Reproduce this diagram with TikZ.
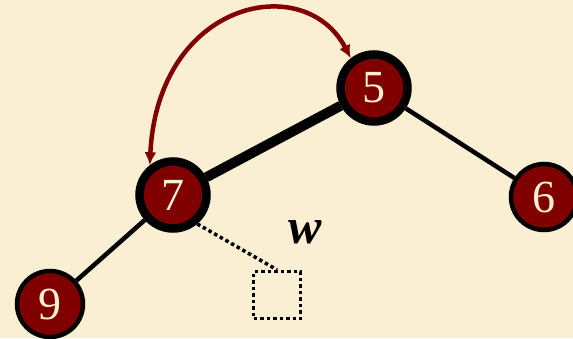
\documentclass[tikz,border=0pt]{standalone}
\usepackage{fontspec}
\setmainfont{Liberation Serif}
\usetikzlibrary{arrows.meta}
\definecolor{cream}{RGB}{250,239,210}
\definecolor{maroon}{RGB}{128,0,0}

\begin{document}
\begin{tikzpicture}[x=1pt,y=1pt,
	vertex/.style={shape=circle,draw=black,fill=maroon,text=cream,inner sep=0pt,font=\fontsize{46}{46}\selectfont},
	heavy/.style={vertex,line width=8.5pt,minimum size=67pt},
	light/.style={vertex,line width=4.5pt,minimum size=66pt},
	leaf/.style={draw=black,line width=3.5pt,dash pattern=on 3.5pt off 3pt,minimum size=47pt,inner sep=0pt}]
	\fill[cream] (0,0) rectangle (573,338);
	\useasboundingbox (0,0) rectangle (573,338);

	\node[heavy] (v5) at (374, 250)     {5};
	\node[heavy] (v7) at (173, 143)     {7};
	\node[light] (v6) at (544, 141)     {6};
	\node[light] (v9) at (50, 34)       {9};
	\node[leaf]  (w)  at (277, 43)      {};
	\node[font=\fontsize{50}{50}\selectfont\bfseries\itshape] (wlabel) at (305, 106) {w};

	\path[draw,line width=10pt] (v7) -- (v5);
	\path[draw,line width=4.5pt] (v5) -- (v6);
	\path[draw,line width=4.5pt] (v7) -- (v9);
	\path[draw,line width=3.5pt,dash pattern=on 3.5pt off 3pt] (v7.-50) -- (w.north);

	\draw[maroon,line width=4.5pt,{Latex[length=13pt,width=12pt]}-{Latex[length=13pt,width=12pt]}]
		(v7.128) .. controls (158,338) and (305,368) .. (v5.128);
\end{tikzpicture}
\end{document}
